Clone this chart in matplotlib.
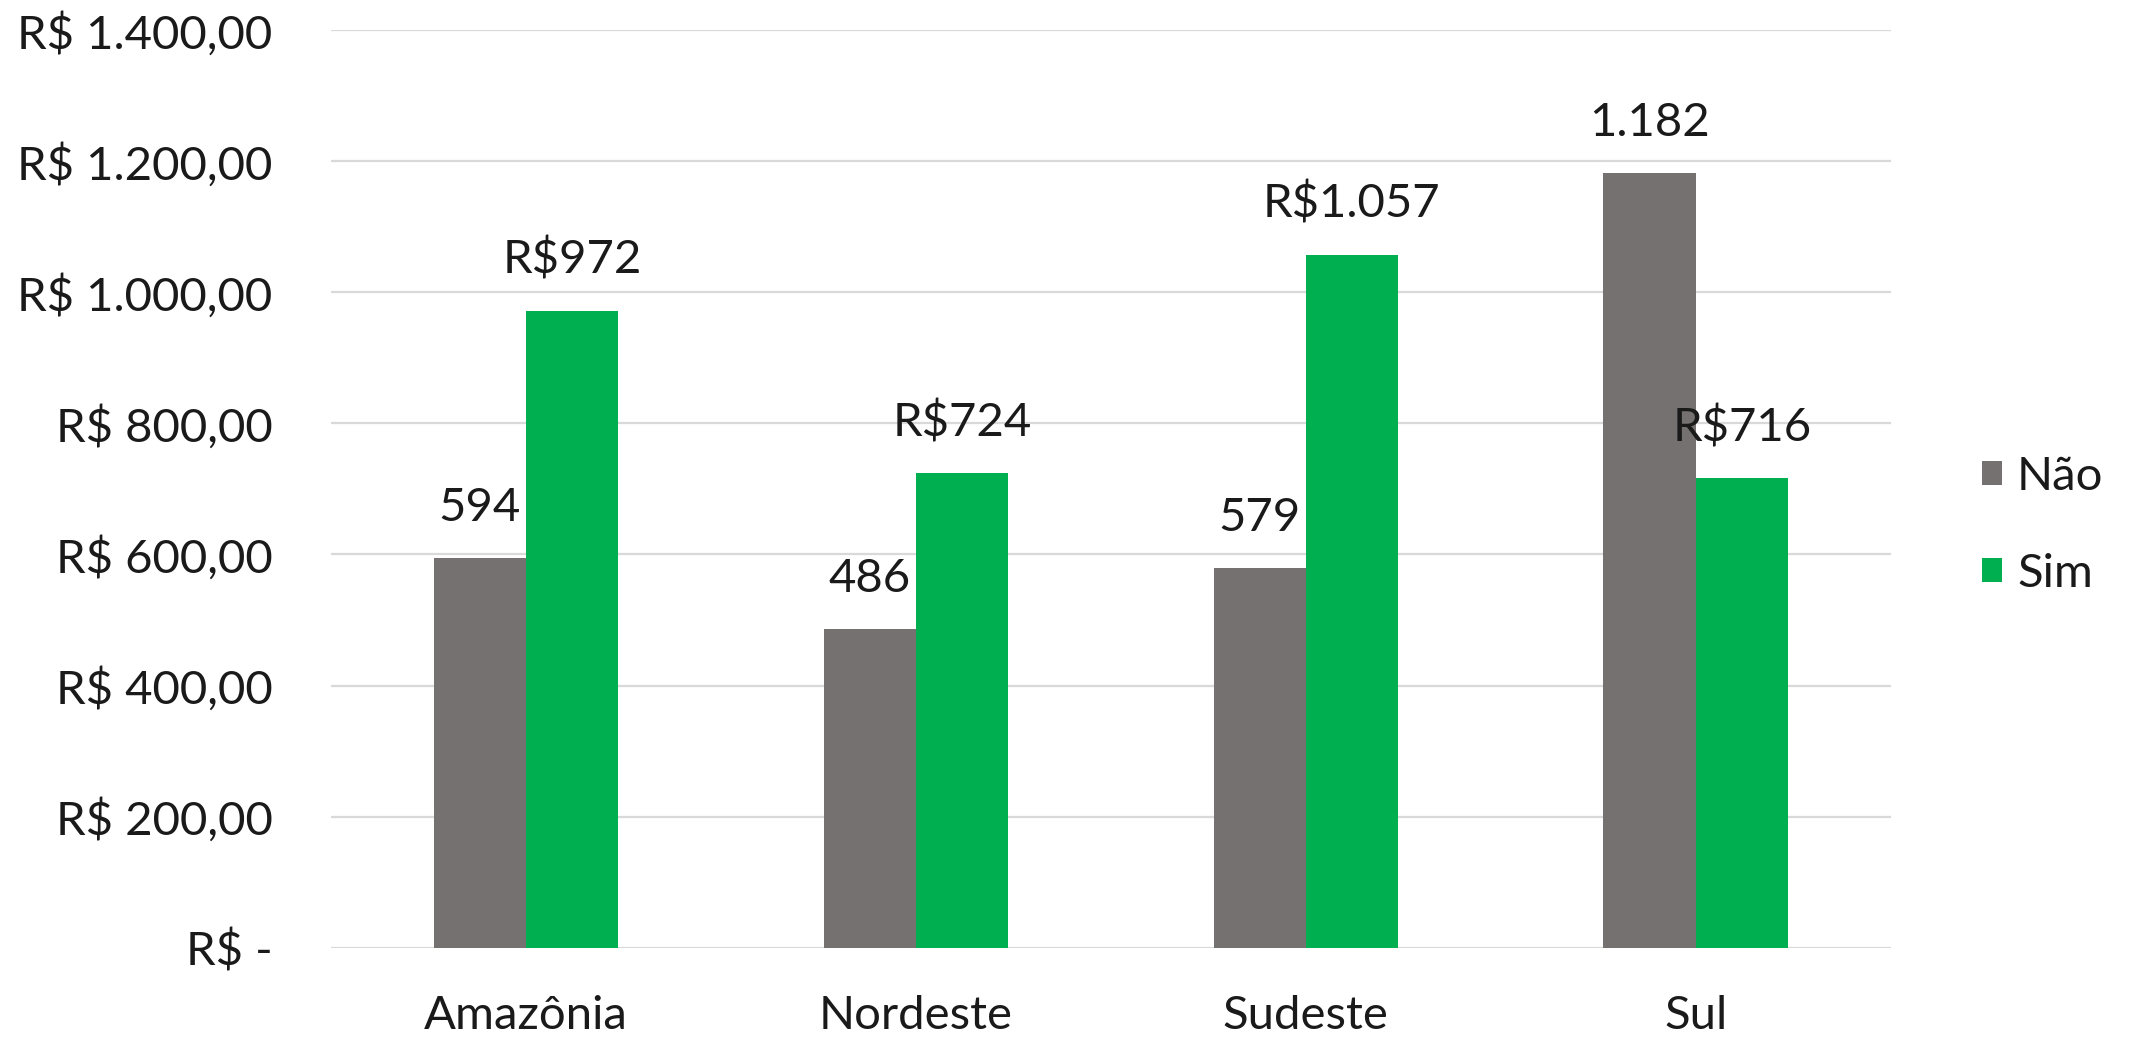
import numpy as np
import matplotlib
matplotlib.use("Agg")
import matplotlib.pyplot as plt
import matplotlib.ticker as ticker

# data
regions = ["Amazônia", "Nordeste", "Sudeste", "Sul"]
nao = [594, 486, 579, 1182]
sim = [972, 724, 1057, 716]
series_names = ["Não", "Sim"]
y_ticks = [0, 200, 400, 600, 800, 1000, 1200, 1400]

cor_nao = "#767171"
cor_sim = "#00B050"

plt.rcParams['font.family'] = ['Lato', 'DejaVu Sans']
fs = 34


def milhar(v):
    # 1182 -> "1.182"
    return f"{v:,.0f}".replace(",", ".")


def reais(v, pos=None):
    if v == 0:
        return "R$ -"
    s = f"{v:,.2f}"
    s = s.replace(",", "X").replace(".", ",").replace("X", ".")
    return "R$ " + s


fig = plt.figure(figsize=(21.29, 10.38), dpi=100)
ax = fig.add_axes([0.1555, 0.087, 0.7325, 0.884])

x = np.arange(len(regions))
w = 0.2365
b1 = ax.bar(x - w / 2, nao, w, color=cor_nao, label=series_names[0], zorder=3)
b2 = ax.bar(x + w / 2, sim, w, color=cor_sim, label=series_names[1], zorder=3)

ax.bar_label(b1, labels=[milhar(v) for v in nao], padding=21, fontsize=fs, color="#1a1a1a")
ax.bar_label(b2, labels=["R$" + milhar(v) for v in sim], padding=21, fontsize=fs, color="#1a1a1a")

ax.set_xlim(-0.5, len(regions) - 0.5)
ax.set_ylim(0, 1400)
ax.set_yticks(y_ticks)
ax.yaxis.set_major_formatter(ticker.FuncFormatter(reais))
ax.set_xticks(x)
ax.set_xticklabels(regions)

ax.tick_params(axis="y", length=0, pad=42, labelsize=fs, labelcolor="#1a1a1a")
ax.tick_params(axis="x", length=0, pad=34, labelsize=fs, labelcolor="#1a1a1a")
ax.yaxis.grid(True, color="#D9D9D9", linewidth=1.6, zorder=0)
ax.set_axisbelow(True)
for sp in ax.spines.values():
    sp.set_visible(False)

fig.legend(loc="center left", bbox_to_anchor=(0.931, 0.494), frameon=False,
           fontsize=fs, handlelength=0.42, handleheight=0.42, handletextpad=0.32,
           labelspacing=1.17, borderpad=0, borderaxespad=0, labelcolor="#1a1a1a")

fig.savefig("out.png", dpi=100, facecolor="white")
